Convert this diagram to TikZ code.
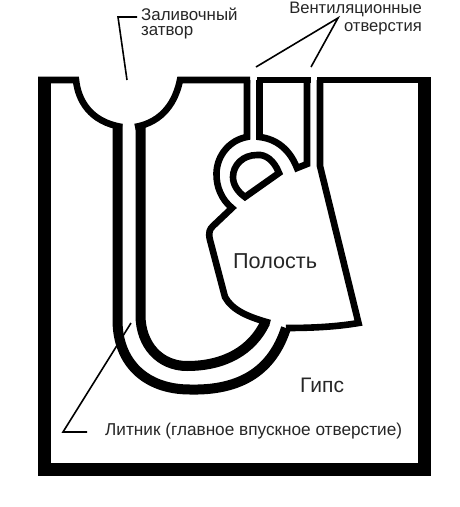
\documentclass[tikz,border=0pt]{standalone}
\usepackage{fontspec}
\setmainfont{Liberation Sans}
\tikzset{
  wall/.style={line width=6.6pt,line join=miter,black},
  thick wall/.style={line width=13pt,line join=miter,black},
  sprue/.style={line width=10pt,black},
  leader/.style={line width=1.6pt,black,line join=miter},
  lbl/.style={anchor=west,inner sep=0pt,text=black!85},
}
\begin{document}
\begin{tikzpicture}[x=1pt,y=-1pt]
\useasboundingbox[fill=white] (0,0) rectangle (460,507);
% mould walls
\draw[thick wall] (44.5,77) -- (44.5,469.5) -- (424,469.5) -- (424,77);
\draw[wall] (38,80) -- (76,80) .. controls (78,100) and (90,122) .. (122,127);
\draw[wall] (250,80) -- (180,80) .. controls (176,100) and (164,122) .. (135,127);
\draw[wall] (257,80) -- (311,80);
\draw[wall] (317,80) -- (430,80);
% sprue
\draw[sprue] (117.5,124) -- (117.5,320) .. controls (117.5,362) and (145,389.5) .. (190,389.5) .. controls (250,391) and (275,362) .. (286,328);
\draw[sprue] (140.5,124) -- (140.5,315) .. controls (140.5,345) and (160,366) .. (187,366) .. controls (225,366) and (252,350) .. (265,323);
% cavity
\draw[wall] (270,323) .. controls (248,317) and (232,310) .. (225,297) -- (210,240) .. controls (208,232) and (210,229) .. (213,226) -- (232,208) .. controls (222,200) and (216,187) .. (216.5,173) .. controls (217,155) and (230,140) .. (247,137) -- (247,80);
\draw[wall] (259.5,80) -- (259.5,137) .. controls (277,139) and (290,150) .. (297,168) -- (307,164) -- (307,80);
\draw[wall] (320,80) -- (320,166) -- (358.5,323) .. controls (335,327) and (310,328) .. (286,328);
% core
\draw[wall] (245,197) -- (279,173) .. controls (274,160) and (265,154) .. (257,155) .. controls (243,155) and (233,165) .. (233,177) .. controls (233,185) and (238,192) .. (245,197) -- cycle;
% labels
\node[lbl] (pour) at (141,14) {\fontsize{16.9}{18}\selectfont Заливочный};
\node[lbl] (pour2) at (141,33) {\fontsize{16.9}{18}\selectfont затвор};
\node[lbl,anchor=east] (vent) at (422,9) {\fontsize{16.6}{18}\selectfont Вентиляционные};
\node[lbl,anchor=east] (vent2) at (422,29) {\fontsize{16.6}{18}\selectfont отверстия};
\node[lbl] (cav) at (233,261) {\fontsize{21.6}{24}\selectfont Полость};
\node[lbl] (gyps) at (300,385) {\fontsize{21}{24}\selectfont Гипс};
\node[lbl] (runner) at (105,431) {\fontsize{17.2}{18}\selectfont Литник (главное впускное отверстие)};
% leaders
\coordinate (p0) at (137,17);
\coordinate (p1) at (118,17);
\coordinate (p2) at (127,80);
\draw[leader] (p0) -- (p1) -- (p2);
\coordinate (v0) at (338,18);
\coordinate (v1) at (256,67);
\coordinate (v2) at (311,67);
\draw[leader] (v1) -- (v0) -- (v2);
\coordinate (r0) at (131,323);
\coordinate (r1) at (63,432);
\coordinate (r2) at (87,432);
\draw[leader] (r0) -- (r1) -- (r2);
\end{tikzpicture}
\end{document}
